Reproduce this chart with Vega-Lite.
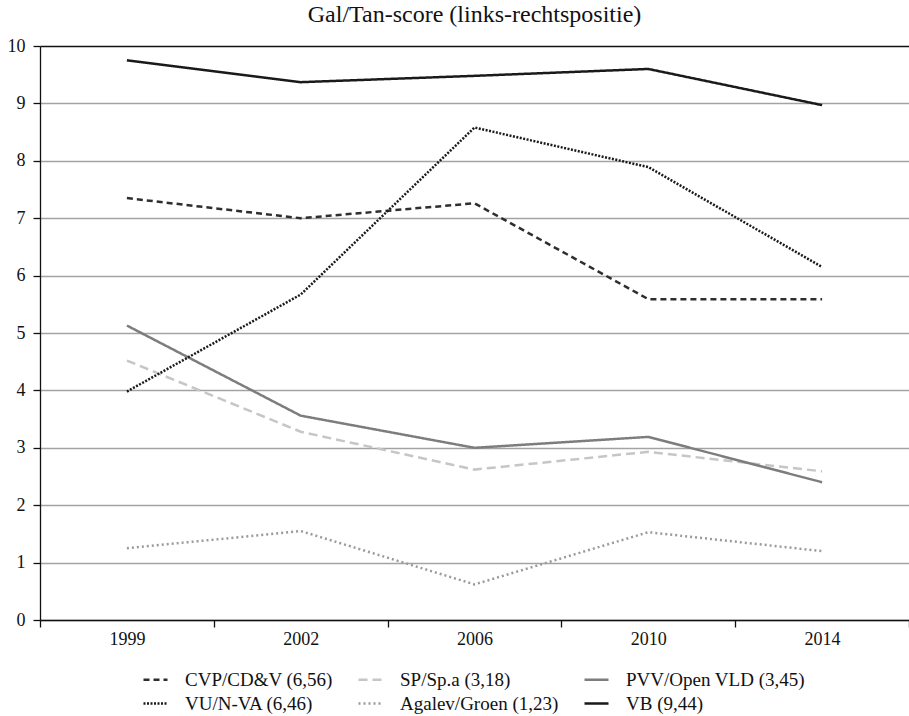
{
  "$schema": "https://vega.github.io/schema/vega-lite/v6.json",
  "autosize": {"type": "none"},
  "width": 869,
  "height": 574,
  "padding": {"left": 40, "top": 46, "right": 0, "bottom": 96},
  "background": "white",
  "config": {
    "view": {"stroke": null},
    "font": "Liberation Serif",
    "title": {"font": "Liberation Serif", "fontSize": 24, "fontWeight": "normal", "color": "#111"},
    "axis": {"labelFont": "Liberation Serif", "labelFontSize": 18, "labelColor": "#111", "domainColor": "#111", "tickColor": "#111", "domainWidth": 1.3, "tickWidth": 1.3, "tickSize": 7},
    "legend": {"labelFont": "Liberation Serif", "labelFontSize": 19, "labelColor": "#111", "labelLimit": 400}
  },
  "title": {"text": "Gal/Tan-score (links-rechtspositie)", "anchor": "middle", "offset": 10},
  "data": {
    "values": [
      {"jaar": "1999", "partij": "CVP/CD&V (6,56)", "score": 7.35},
      {"jaar": "2002", "partij": "CVP/CD&V (6,56)", "score": 7.0},
      {"jaar": "2006", "partij": "CVP/CD&V (6,56)", "score": 7.26},
      {"jaar": "2010", "partij": "CVP/CD&V (6,56)", "score": 5.59},
      {"jaar": "2014", "partij": "CVP/CD&V (6,56)", "score": 5.59},
      {"jaar": "1999", "partij": "SP/Sp.a (3,18)", "score": 4.52},
      {"jaar": "2002", "partij": "SP/Sp.a (3,18)", "score": 3.28},
      {"jaar": "2006", "partij": "SP/Sp.a (3,18)", "score": 2.62},
      {"jaar": "2010", "partij": "SP/Sp.a (3,18)", "score": 2.93},
      {"jaar": "2014", "partij": "SP/Sp.a (3,18)", "score": 2.59},
      {"jaar": "1999", "partij": "PVV/Open VLD (3,45)", "score": 5.13},
      {"jaar": "2002", "partij": "PVV/Open VLD (3,45)", "score": 3.56},
      {"jaar": "2006", "partij": "PVV/Open VLD (3,45)", "score": 3.0},
      {"jaar": "2010", "partij": "PVV/Open VLD (3,45)", "score": 3.19},
      {"jaar": "2014", "partij": "PVV/Open VLD (3,45)", "score": 2.4},
      {"jaar": "1999", "partij": "VU/N-VA (6,46)", "score": 3.98},
      {"jaar": "2002", "partij": "VU/N-VA (6,46)", "score": 5.67},
      {"jaar": "2006", "partij": "VU/N-VA (6,46)", "score": 8.58},
      {"jaar": "2010", "partij": "VU/N-VA (6,46)", "score": 7.89},
      {"jaar": "2014", "partij": "VU/N-VA (6,46)", "score": 6.15},
      {"jaar": "1999", "partij": "Agalev/Groen (1,23)", "score": 1.25},
      {"jaar": "2002", "partij": "Agalev/Groen (1,23)", "score": 1.55},
      {"jaar": "2006", "partij": "Agalev/Groen (1,23)", "score": 0.62},
      {"jaar": "2010", "partij": "Agalev/Groen (1,23)", "score": 1.53},
      {"jaar": "2014", "partij": "Agalev/Groen (1,23)", "score": 1.2},
      {"jaar": "1999", "partij": "VB (9,44)", "score": 9.75},
      {"jaar": "2002", "partij": "VB (9,44)", "score": 9.37},
      {"jaar": "2006", "partij": "VB (9,44)", "score": 9.48},
      {"jaar": "2010", "partij": "VB (9,44)", "score": 9.6},
      {"jaar": "2014", "partij": "VB (9,44)", "score": 8.97}
    ]
  },
  "mark": {"type": "line", "strokeCap": "butt", "strokeJoin": "miter"},
  "encoding": {
    "x": {
      "field": "jaar", "type": "ordinal",
      "scale": {"type": "band", "paddingInner": 0, "paddingOuter": 0},
      "axis": {"title": null, "labelAngle": 0, "tickBand": "extent", "labelPadding": 3, "grid": false}
    },
    "y": {
      "field": "score", "type": "quantitative",
      "scale": {"domain": [0, 10], "nice": false},
      "axis": {"title": null, "values": [0,1,2,3,4,5,6,7,8,9,10], "labelPadding": 8, "grid": true,
        "gridColor": {"condition": {"test": "datum.value === 10", "value": "#111"}, "value": "#a3a3a3"},
        "gridWidth": 1.5}
    },
    "color": {
      "field": "partij", "type": "nominal",
      "scale": {
        "domain": ["CVP/CD&V (6,56)", "VU/N-VA (6,46)", "SP/Sp.a (3,18)", "Agalev/Groen (1,23)", "PVV/Open VLD (3,45)", "VB (9,44)"],
        "range": ["#2e2e2e", "#1a1a1a", "#c6c6c6", "#9a9a9a", "#7d7d7d", "#1a1a1a"]
      },
      "legend": {
        "title": null, "orient": "none", "legendX": 102, "legendY": 620, "columns": 3,
        "symbolType": "stroke", "symbolSize": 576, "labelOffset": 16, "columnPadding": 20, "rowPadding": 0,
        "padding": 0, "symbolStrokeWidth": 2.5
      }
    },
    "strokeDash": {
      "field": "partij", "type": "nominal",
      "scale": {
        "domain": ["CVP/CD&V (6,56)", "VU/N-VA (6,46)", "SP/Sp.a (3,18)", "Agalev/Groen (1,23)", "PVV/Open VLD (3,45)", "VB (9,44)"],
        "range": [[6, 4], [2, 1.5], [9, 5], [2, 3], [1, 0], [1, 0]]
      },
      "legend": {
        "title": null, "orient": "none", "legendX": 102, "legendY": 620, "columns": 3,
        "symbolType": "stroke", "symbolSize": 576, "labelOffset": 16, "columnPadding": 20, "rowPadding": 0,
        "padding": 0, "symbolStrokeWidth": 2.5
      }
    },
    "strokeWidth": {
      "field": "partij", "type": "nominal",
      "scale": {
        "domain": ["CVP/CD&V (6,56)", "VU/N-VA (6,46)", "SP/Sp.a (3,18)", "Agalev/Groen (1,23)", "PVV/Open VLD (3,45)", "VB (9,44)"],
        "range": [2.5, 2.5, 2.5, 2, 2.5, 3]
      },
      "legend": null
    }
  }
}
